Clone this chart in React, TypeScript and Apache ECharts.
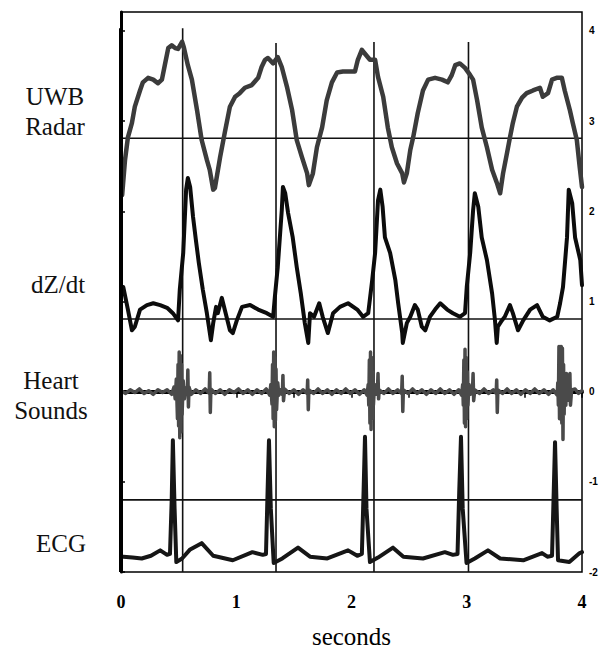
import React, { useEffect, useRef } from "react";
import * as echarts from "echarts";

// time in seconds, value in right-axis units
const uwbRadar: number[][] = [
  [0.01, 2.18], [0.035, 2.57], [0.06, 2.82], [0.095, 2.98], [0.12, 3.16], [0.165, 3.34], [0.19, 3.43],
  [0.235, 3.48], [0.28, 3.46], [0.32, 3.42], [0.355, 3.46], [0.38, 3.62], [0.41, 3.81], [0.44, 3.84],
  [0.47, 3.81], [0.495, 3.8], [0.53, 3.88], [0.545, 3.82], [0.58, 3.62], [0.615, 3.46], [0.66, 3.12],
  [0.7, 2.79], [0.745, 2.57], [0.77, 2.46], [0.8, 2.24], [0.815, 2.26], [0.86, 2.6], [0.9, 2.87],
  [0.945, 3.16], [0.99, 3.27], [1.03, 3.31], [1.075, 3.37], [1.135, 3.4], [1.19, 3.48], [1.22, 3.6],
  [1.25, 3.68], [1.275, 3.7], [1.32, 3.64], [1.36, 3.71], [1.395, 3.6], [1.44, 3.38], [1.485, 3.12],
  [1.525, 2.79], [1.57, 2.6], [1.615, 2.42], [1.63, 2.29], [1.665, 2.42], [1.7, 2.71], [1.745, 2.93],
  [1.785, 3.23], [1.83, 3.43], [1.875, 3.54], [1.925, 3.55], [2.03, 3.55], [2.055, 3.68], [2.09, 3.79],
  [2.115, 3.75], [2.16, 3.68], [2.205, 3.68], [2.23, 3.49], [2.275, 3.27], [2.315, 2.93], [2.35, 2.71],
  [2.395, 2.53], [2.44, 2.42], [2.455, 2.32], [2.48, 2.42], [2.51, 2.68], [2.535, 2.82], [2.575, 3.09],
  [2.62, 3.34], [2.665, 3.46], [2.725, 3.48], [2.785, 3.46], [2.835, 3.43], [2.87, 3.51], [2.9, 3.62],
  [2.94, 3.64], [2.985, 3.59], [3.03, 3.51], [3.055, 3.46], [3.09, 3.23], [3.13, 2.93], [3.175, 2.71],
  [3.22, 2.46], [3.26, 2.32], [3.29, 2.2], [3.315, 2.42], [3.35, 2.65], [3.375, 2.82], [3.4, 2.98],
  [3.435, 3.16], [3.48, 3.26], [3.52, 3.31], [3.575, 3.34], [3.635, 3.37], [3.66, 3.27], [3.705, 3.31],
  [3.74, 3.46], [3.78, 3.48], [3.825, 3.48], [3.85, 3.34], [3.895, 3.12], [3.92, 2.98], [3.955, 2.79],
  [3.98, 2.49], [4.0, 2.27],
];

const dzdt: number[][] = [
  [0.02, 1.16], [0.06, 0.91], [0.095, 0.68], [0.12, 0.72], [0.165, 0.91], [0.225, 0.96], [0.28, 0.98],
  [0.34, 0.96], [0.4, 0.93], [0.45, 0.87], [0.495, 0.79], [0.51, 1.13], [0.54, 1.54], [0.565, 2.24],
  [0.58, 2.37], [0.6, 2.27], [0.625, 1.94], [0.65, 1.68], [0.675, 1.43], [0.71, 1.13], [0.745, 0.87],
  [0.78, 0.57], [0.8, 0.76], [0.825, 0.94], [0.84, 0.87], [0.875, 1.04], [0.9, 0.91], [0.945, 0.68],
  [0.97, 0.65], [1.005, 0.79], [1.05, 0.94], [1.12, 0.96], [1.19, 0.91], [1.265, 0.87], [1.32, 0.83],
  [1.335, 1.05], [1.36, 1.38], [1.395, 2.01], [1.405, 2.27], [1.425, 2.2], [1.45, 1.98], [1.49, 1.71],
  [1.525, 1.38], [1.56, 1.09], [1.595, 0.76], [1.625, 0.54], [1.64, 0.87], [1.675, 0.83], [1.72, 0.98],
  [1.75, 0.83], [1.795, 0.65], [1.84, 0.87], [1.9, 0.94], [1.97, 0.98], [2.05, 0.91], [2.1, 0.83],
  [2.145, 0.87], [2.18, 1.24], [2.205, 1.54], [2.23, 2.12], [2.25, 2.24], [2.27, 2.05], [2.29, 1.71],
  [2.335, 1.54], [2.38, 1.24], [2.405, 0.98], [2.44, 0.65], [2.445, 0.54], [2.48, 0.76], [2.51, 0.83],
  [2.55, 0.96], [2.575, 0.91], [2.61, 0.72], [2.64, 0.68], [2.68, 0.83], [2.725, 0.91], [2.77, 0.98],
  [2.83, 0.91], [2.88, 0.87], [2.94, 0.83], [2.985, 0.87], [3.0, 1.16], [3.03, 1.54], [3.055, 2.01],
  [3.07, 2.2], [3.1, 2.05], [3.13, 1.71], [3.175, 1.46], [3.22, 1.09], [3.245, 0.79], [3.26, 0.54],
  [3.27, 0.72], [3.305, 0.79], [3.33, 0.83], [3.375, 0.96], [3.4, 0.87], [3.445, 0.68], [3.49, 0.79],
  [3.55, 0.91], [3.61, 0.96], [3.66, 0.83], [3.72, 0.79], [3.785, 0.83], [3.81, 0.98], [3.835, 1.16],
  [3.87, 1.71], [3.885, 2.24], [3.915, 2.09], [3.94, 1.71], [3.985, 1.46], [4.0, 1.18],
];

const heartSounds: number[][] = [
  [0, 0.01], [0.04, -0.02], [0.08, 0.02], [0.12, -0.01], [0.16, 0.03], [0.2, -0.02], [0.24, 0.01],
  [0.28, -0.03], [0.32, 0.02], [0.36, -0.01], [0.4, 0.02], [0.44, -0.03], [0.46, 0.05],
  [0.47, -0.08], [0.48, 0.14], [0.49, -0.3], [0.495, 0.3], [0.5, -0.38], [0.505, 0.44], [0.51, -0.51],
  [0.515, 0.4], [0.52, -0.45], [0.525, 0.3], [0.53, -0.25], [0.54, 0.12], [0.55, -0.08], [0.56, 0.04],
  [0.575, -0.03], [0.58, 0.24], [0.585, -0.17], [0.59, 0.05], [0.61, -0.03], [0.65, 0.02], [0.69, -0.02],
  [0.73, 0.03], [0.765, -0.02], [0.77, 0.21], [0.775, -0.23], [0.78, 0.03], [0.82, -0.02], [0.86, 0.02],
  [0.9, -0.03], [0.94, 0.02], [0.98, -0.01], [1.02, 0.03], [1.06, -0.02], [1.1, 0.02], [1.14, -0.03],
  [1.18, 0.02], [1.22, -0.02], [1.26, 0.03], [1.29, -0.04],
  [1.3, 0.08], [1.31, -0.14], [1.315, 0.3], [1.32, -0.3], [1.325, 0.44], [1.33, -0.39], [1.335, 0.38],
  [1.34, -0.32], [1.345, 0.25], [1.35, -0.2], [1.36, 0.1], [1.37, -0.04], [1.385, 0.02],
  [1.4, -0.03], [1.405, 0.18], [1.41, -0.1], [1.42, 0.03], [1.46, -0.02], [1.5, 0.02], [1.54, -0.03],
  [1.58, 0.02], [1.615, -0.02], [1.62, 0.13], [1.625, -0.2], [1.63, 0.02], [1.67, -0.02], [1.71, 0.03],
  [1.75, -0.02], [1.79, 0.02], [1.83, -0.03], [1.87, 0.02], [1.91, -0.02], [1.95, 0.03], [1.99, -0.02],
  [2.03, 0.02], [2.07, -0.03], [2.11, 0.02], [2.135, -0.04],
  [2.145, 0.08], [2.15, -0.15], [2.155, 0.35], [2.16, -0.35], [2.165, 0.44], [2.17, -0.42], [2.175, 0.38],
  [2.18, -0.3], [2.185, 0.22], [2.19, -0.15], [2.2, 0.08], [2.21, -0.03],
  [2.225, 0.02], [2.23, 0.2], [2.235, -0.08], [2.24, 0.02], [2.28, -0.02], [2.32, 0.03], [2.36, -0.02],
  [2.4, 0.02], [2.435, -0.02], [2.44, 0.17], [2.445, -0.22], [2.45, 0.02], [2.49, -0.02], [2.53, 0.03],
  [2.57, -0.02], [2.61, 0.02], [2.65, -0.03], [2.69, 0.02], [2.73, -0.02], [2.77, 0.03], [2.81, -0.02],
  [2.85, 0.02], [2.89, -0.03], [2.93, 0.02], [2.955, -0.04],
  [2.965, 0.08], [2.97, -0.15], [2.975, 0.35], [2.98, -0.35], [2.985, 0.47], [2.99, -0.39], [2.995, 0.38],
  [3.0, -0.3], [3.005, 0.22], [3.01, -0.15], [3.02, 0.08], [3.03, -0.03],
  [3.05, 0.02], [3.055, 0.2], [3.06, -0.1], [3.07, 0.02], [3.11, -0.02], [3.15, 0.03], [3.19, -0.02],
  [3.23, 0.02], [3.255, -0.02], [3.26, 0.13], [3.265, -0.23], [3.27, 0.02], [3.31, -0.02], [3.35, 0.03],
  [3.39, -0.02], [3.43, 0.02], [3.47, -0.03], [3.51, 0.02], [3.55, -0.02], [3.59, 0.03], [3.63, -0.02],
  [3.67, 0.02], [3.71, -0.03], [3.75, 0.02], [3.785, -0.04],
  [3.79, 0.1], [3.795, -0.15], [3.8, 0.5], [3.805, -0.3], [3.81, 0.5], [3.815, -0.2], [3.82, 0.5],
  [3.825, -0.35], [3.83, 0.48], [3.835, -0.53], [3.84, 0.3], [3.845, -0.25], [3.85, 0.2], [3.86, -0.15],
  [3.865, 0.2], [3.87, -0.1], [3.88, 0.04], [3.895, 0.2], [3.9, -0.15], [3.91, 0.02], [3.94, 0.03],
  [3.97, -0.02], [4.0, 0.01],
];

const ecg: number[][] = [
  [0.02, -1.83], [0.1, -1.84], [0.18, -1.85], [0.26, -1.82], [0.34, -1.76], [0.4, -1.81], [0.425, -1.8],
  [0.44, -1.2], [0.45, -0.54], [0.465, -1.3], [0.48, -1.89], [0.53, -1.85], [0.6, -1.75], [0.7, -1.68],
  [0.8, -1.82], [0.97, -1.87], [1.14, -1.78], [1.23, -1.81], [1.258, -1.8], [1.272, -1.1], [1.284, -0.54],
  [1.3, -1.3], [1.325, -1.9], [1.4, -1.85], [1.536, -1.73], [1.64, -1.83], [1.79, -1.85], [1.97, -1.76],
  [2.05, -1.82], [2.09, -1.8], [2.105, -1.1], [2.117, -0.5], [2.13, -1.3], [2.16, -1.89], [2.23, -1.84],
  [2.36, -1.73], [2.45, -1.83], [2.62, -1.85], [2.81, -1.78], [2.88, -1.81], [2.92, -1.8], [2.935, -1.1],
  [2.95, -0.5], [2.965, -1.3], [2.998, -1.9], [3.07, -1.85], [3.184, -1.76], [3.29, -1.85], [3.49, -1.87],
  [3.653, -1.79], [3.7, -1.83], [3.74, -1.82], [3.755, -1.1], [3.766, -0.56], [3.78, -1.3], [3.792, -1.87],
  [3.89, -1.89], [3.98, -1.79], [4.0, -1.78],
];

const baselineLevels = [2.81, 0.805, -1.2];
const markerTimes = [0.535, 1.345, 2.195, 3.015];
const markerTops = [4.03, 3.865, 3.876, 3.876];
const leftFrameTop = 4.03;
const rightTicks = [-2, -1, 0, 1, 2, 3, 4];
const traceNames = ["UWB\nRadar", "dZ/dt", "Heart\nSounds", "ECG"];

const SERIF = '"Liberation Serif", "DejaVu Serif", serif';

export default function App() {
  const ref = useRef<HTMLDivElement>(null);
  useEffect(() => {
    if (!ref.current) return;
    const chart = echarts.init(ref.current, undefined, { renderer: "svg" });
    const thin = (data: number[][]) => ({
      type: "line",
      data,
      showSymbol: false,
      silent: true,
      lineStyle: { color: "#111", width: 1.6 },
      z: 1,
    });
    const series: any[] = [];
    baselineLevels.forEach((v) => series.push(thin([[0, v], [4, v]])));
    markerTimes.forEach((t, i) => series.push(thin([[t, markerTops[i]], [t, -2]])));
    series.push({
      type: "line",
      data: [[0, -2], [0, leftFrameTop]],
      showSymbol: false,
      clip: false,
      lineStyle: { color: "#000", width: 4 },
      z: 5,
    });
    const trace = (name: string, data: number[][], color: string, width: number) => ({
      name,
      type: "line",
      data,
      showSymbol: false,
      silent: true,
      lineStyle: { color, width, cap: "round", join: "round" },
      z: 3,
    });
    series.push(trace("UWB Radar", uwbRadar, "#3b3b3b", 4.5));
    series.push(trace("dZ/dt", dzdt, "#0c0c0c", 4));
    series.push(trace("Heart Sounds", heartSounds, "#4a4a4a", 3.5));
    series.push(trace("ECG", ecg, "#161616", 4));

    const labelPos = [
      { x: 55, y: 111 },
      { x: 58, y: 284 },
      { x: 51, y: 395 },
      { x: 61, y: 543 },
    ];

    chart.setOption({
      animation: false,
      backgroundColor: "#fff",
      grid: {
        left: 121,
        right: 17,
        top: 12,
        bottom: 80,
        show: true,
        borderColor: "#000",
        borderWidth: 1.5,
        containLabel: false,
        outerBoundsMode: "none",
      },
      xAxis: {
        type: "value",
        min: 0,
        max: 4,
        interval: 0.5,
        name: "seconds",
        nameLocation: "middle",
        nameGap: 52,
        nameTextStyle: { fontFamily: SERIF, fontSize: 25, color: "#000" },
        axisLine: { show: true, lineStyle: { color: "#000", width: 4 } },
        axisTick: { show: true, length: 6, lineStyle: { color: "#000", width: 1.5 } },
        axisLabel: {
          interval: 1,
          formatter: (v: number) => (Number.isInteger(v) ? String(v) : ""),
          fontFamily: SERIF,
          fontWeight: "bold",
          fontSize: 18,
          color: "#000",
          margin: 21,
        },
        splitLine: { show: false },
      },
      yAxis: {
        type: "value",
        position: "right",
        min: -2,
        max: 4.21,
        interval: 1,
        axisLine: { show: true, lineStyle: { color: "#000", width: 3 } },
        axisTick: {
          show: true,
          length: 4,
          customValues: rightTicks,
          lineStyle: { color: "#000", width: 1.5 },
        },
        axisLabel: {
          customValues: rightTicks,
          fontFamily: '"Liberation Sans", Arial, sans-serif',
          fontWeight: "bold",
          fontSize: 10,
          color: "#000",
          margin: 7,
        },
        splitLine: { show: false },
      },
      graphic: traceNames.map((t, i) => ({
        type: "text",
        x: labelPos[i].x,
        y: labelPos[i].y,
        style: {
          text: t,
          fill: "#111",
          font: `25px ${SERIF}`,
          lineHeight: 30,
          textAlign: "center",
          textVerticalAlign: "middle",
        },
      })),
      series,
    });
    return () => chart.dispose();
  }, []);
  return <div ref={ref} style={{ width: 599, height: 652, position: "absolute", left: 0, top: 0 }} />;
}
